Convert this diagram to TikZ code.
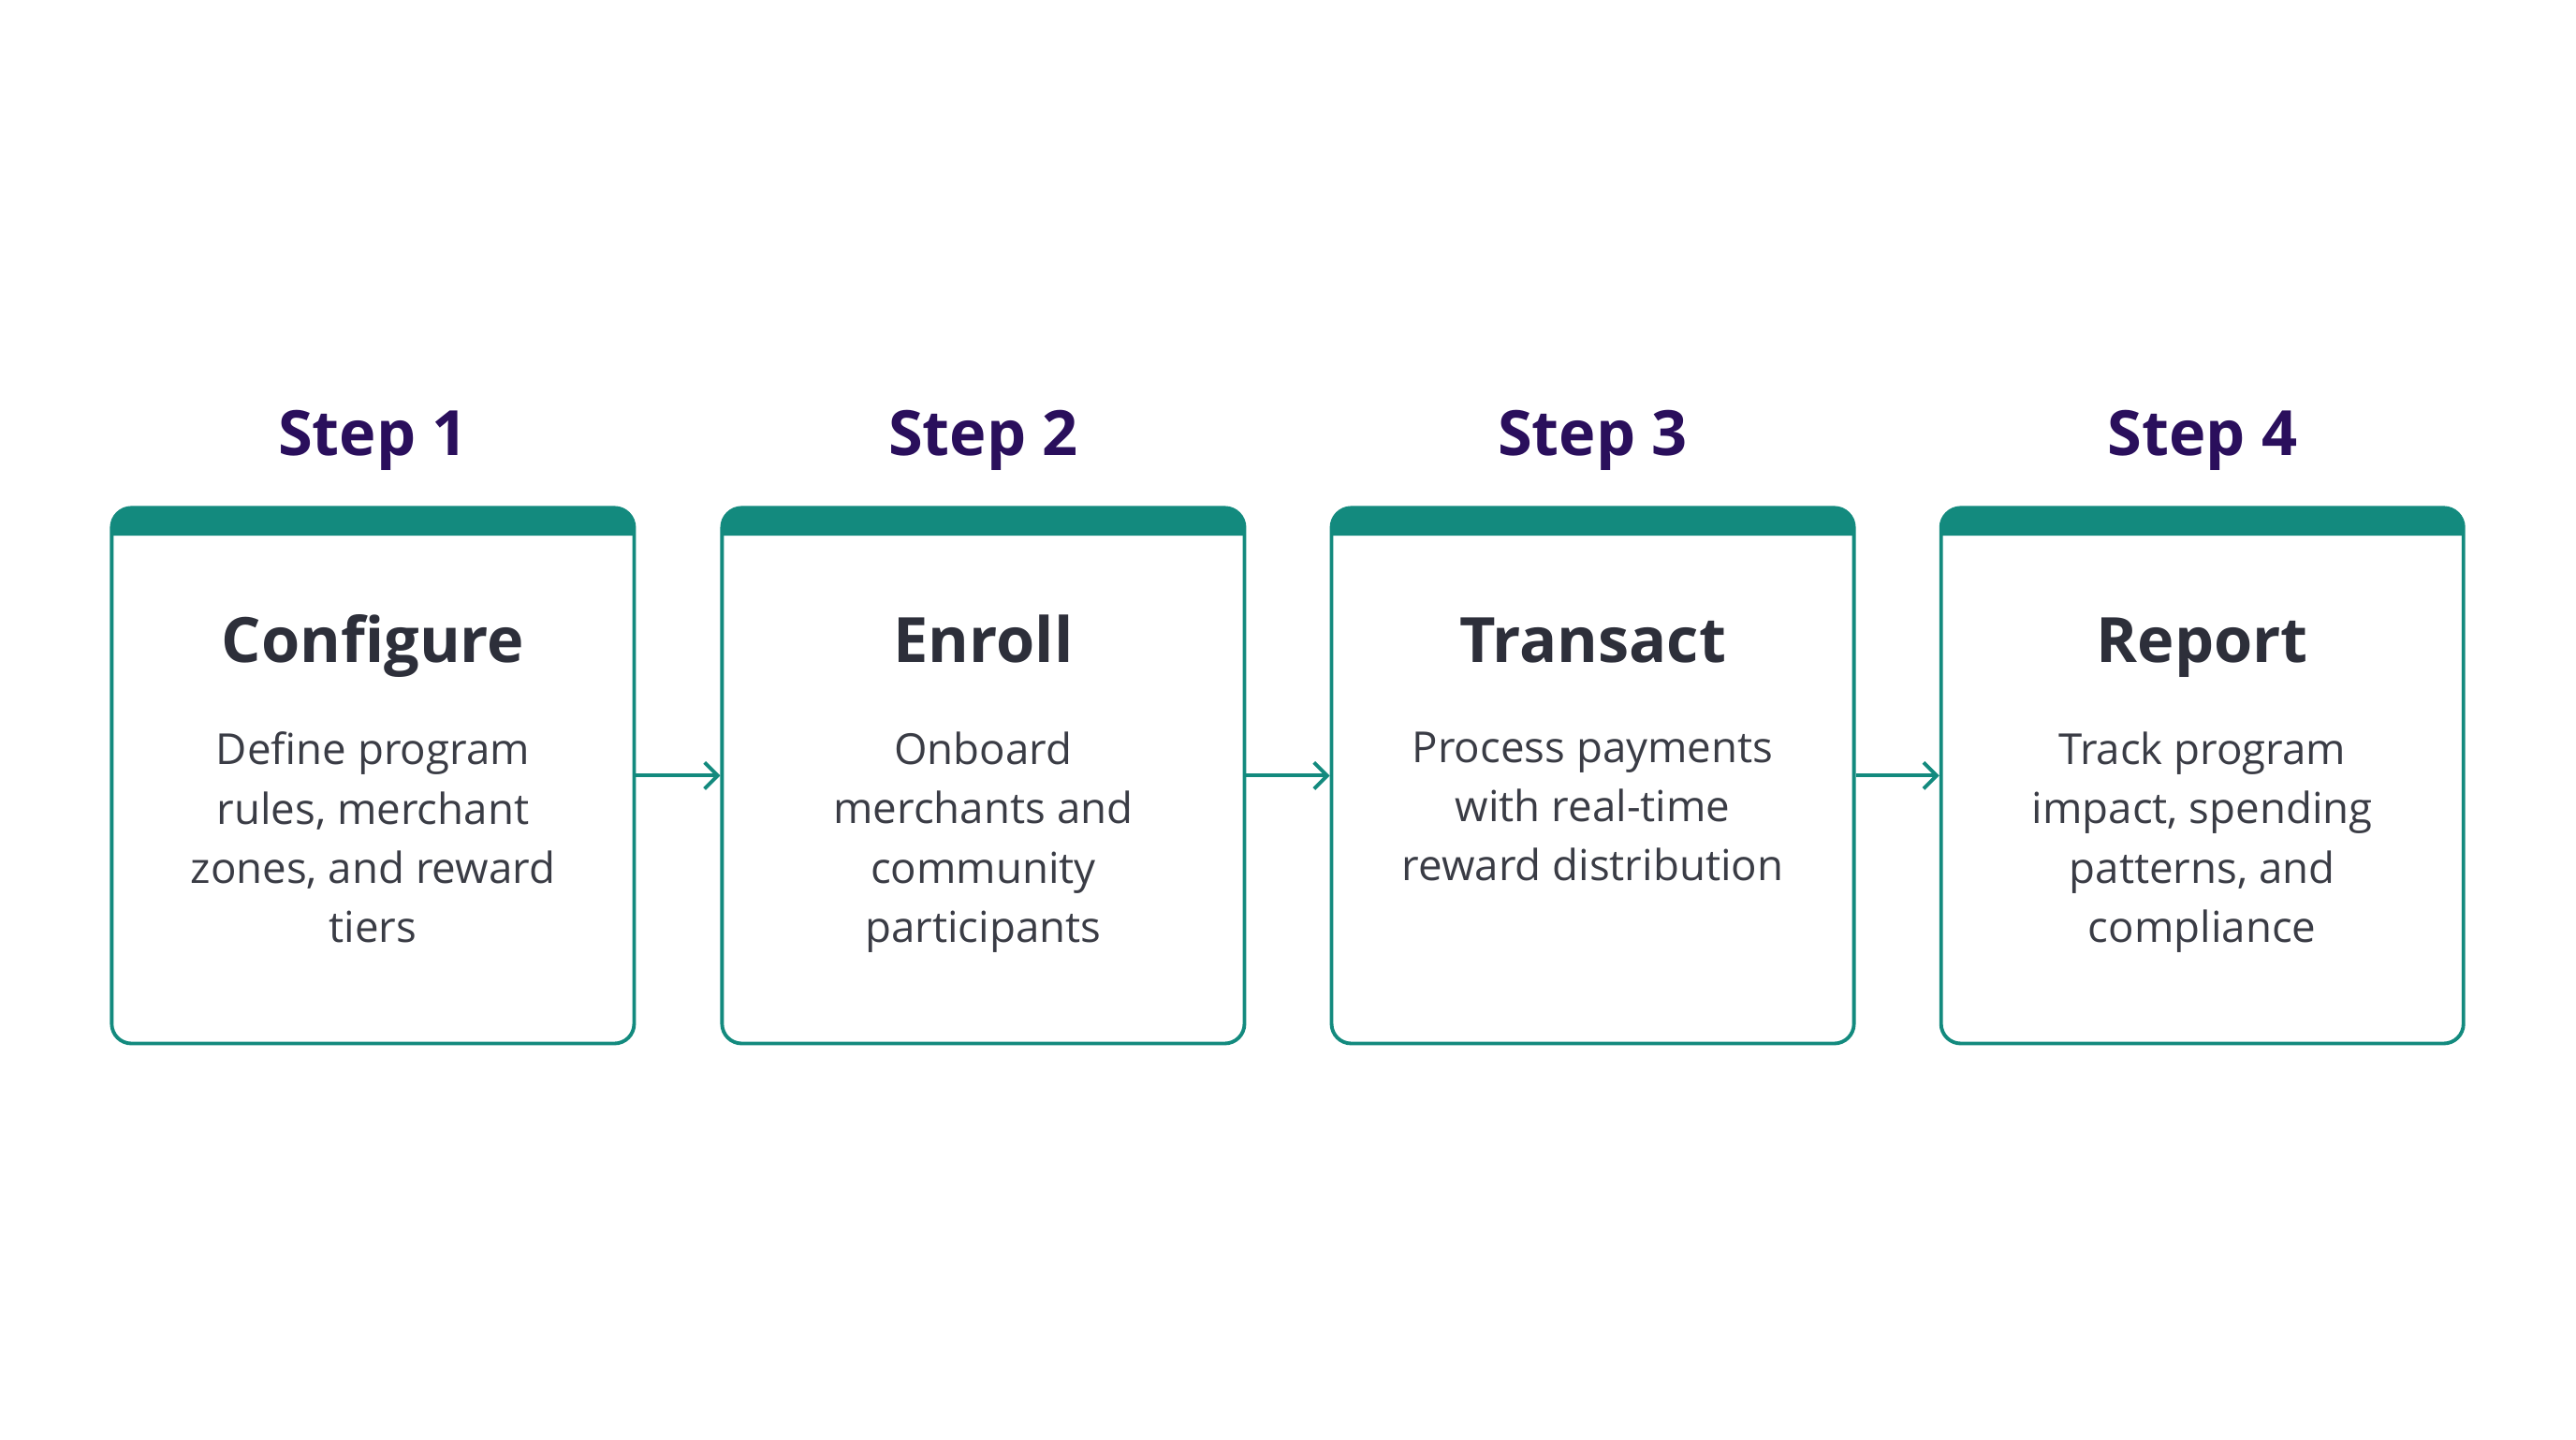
\documentclass[tikz,border=0pt]{standalone}
\usepackage{fontspec}
\setmainfont{Open Sans}
\usetikzlibrary{arrows.meta}
\definecolor{teal1}{HTML}{138A7E}
\definecolor{stepc}{HTML}{2A0F5C}
\definecolor{titc}{HTML}{2D2F3A}
\definecolor{bodc}{HTML}{3A3C45}
\begin{document}
\begin{tikzpicture}[x=1pt,y=-1pt,
  box/.style={draw=teal1,line width=2.2pt,fill=white,rounded corners=12pt,minimum width=318pt,minimum height=326pt,inner sep=0pt},
  steplbl/.style={font=\fontsize{38}{44}\selectfont\bfseries,text=stepc,anchor=base},
  tit/.style={font=\fontsize{38}{44}\selectfont\bfseries,text=titc,anchor=base},
  bod/.style={font=\fontsize{26}{36}\selectfont,text=bodc,align=center,anchor=north},
  arr/.style={draw=teal1,line width=2.2pt,-{Straight Barb[length=8pt,width=16pt]}}]
\useasboundingbox[fill=white] (0,0) rectangle (1568,876);
\foreach \i/\x/\s/\t/\b in {1/227/Step 1/Configure/{Define program\\rules, merchant\\zones, and reward\\tiers},
  2/598.5/Step 2/Enroll/{Onboard\\merchants and\\community\\participants},
  3/969.5/Step 3/Transact/{Process payments\\with real-time\\reward distribution},
  4/1340.5/Step 4/Report/{Track program\\impact, spending\\patterns, and\\compliance}}{
  \node[box] (b\i) at (\x,472) {};
  \fill[teal1] (\x-159,326) {[rounded corners=12pt] -- (\x-159,309) -- (\x+159,309)} -- (\x+159,326) -- cycle;
  \node[steplbl] (s\i) at (\x,277) {\s};
  \node[tit] (t\i) at (\x,403) {\t};
  \node[bod] (d\i) at (\x,442) {\b};
}
\draw[arr] (b1.east) -- (b2.west);
\draw[arr] (b2.east) -- (b3.west);
\draw[arr] (b3.east) -- (b4.west);
\end{tikzpicture}
\end{document}
